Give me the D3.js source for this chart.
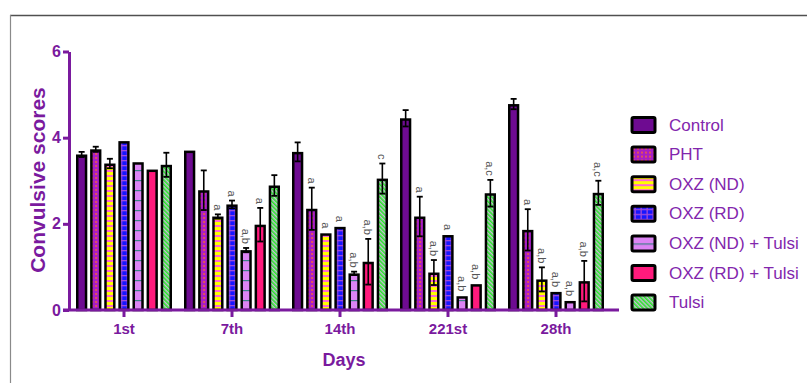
<!DOCTYPE html>
<html>
<head>
<meta charset="utf-8">
<script src="https://cdn.jsdelivr.net/npm/d3@7"></script>
<style>
  body { margin: 0; background: #fff; }
  svg { display: block; }
  svg text { font-family: "Liberation Sans", Arial, sans-serif; }
</style>
</head>
<body>
<div id="chart"></div>
<script>
const days = ["1st", "7th", "14th", "221st", "28th"];
const groups = ["Control", "PHT", "OXZ (ND)", "OXZ (RD)", "OXZ (ND) + Tulsi", "OXZ (RD) + Tulsi", "Tulsi"];

// mean scores per group, one value per day
const control = [3.61, 3.70, 3.67, 4.45, 4.78];
const pht     = [3.73, 2.78, 2.35, 2.17, 1.86];
const oxzND   = [3.40, 2.17, 1.78, 0.87, 0.71];
const oxzRD   = [3.92, 2.45, 1.93, 1.74, 0.42];
const oxzNDT  = [3.43, 1.39, 0.85, 0.32, 0.21];
const oxzRDT  = [3.26, 1.98, 1.12, 0.60, 0.67];
const tulsi   = [3.37, 2.89, 3.05, 2.71, 2.72];

// SEM
const controlErr = [0.06, 0.02, 0.22, 0.19, 0.12];
const phtErr     = [0.06, 0.46, 0.49, 0.46, 0.48];
const oxzNDErr   = [0.11, 0.05, 0.02, 0.29, 0.28];
const oxzRDErr   = [0.02, 0.09, 0.02, 0.02, 0.02];
const oxzNDTErr  = [0.00, 0.05, 0.04, 0.02, 0.02];
const oxzRDTErr  = [0.02, 0.39, 0.53, 0.02, 0.47];
const tulsiErr   = [0.28, 0.24, 0.35, 0.31, 0.28];

// significance letters
const controlSig = ["", "", "", "", ""];
const phtSig     = ["", "", "a", "a", "a"];
const oxzNDSig   = ["", "a", "a", "a,b", "a,b"];
const oxzRDSig   = ["", "a", "a", "a", "a,b"];
const oxzNDTSig  = ["", "a,b", "a,b", "a,b", "a,b"];
const oxzRDTSig  = ["", "a", "a,b", "a,b", "a,b"];
const tulsiSig   = ["", "", "c", "a,c", "a,c"];

const yTicks = [0, 2, 4, 6];

const means = [control, pht, oxzND, oxzRD, oxzNDT, oxzRDT, tulsi];
const errs = [controlErr, phtErr, oxzNDErr, oxzRDErr, oxzNDTErr, oxzRDTErr, tulsiErr];
const sigs = [controlSig, phtSig, oxzNDSig, oxzRDSig, oxzNDTSig, oxzRDTSig, tulsiSig];

const rows = [];
days.forEach((day, di) => {
	groups.forEach((g, gi) => {
		rows.push({day: day, group: g, gi: gi, value: means[gi][di], err: errs[gi][di], sig: sigs[gi][di]});
	});
});

const W = 807, H = 383;
const purple = "#7a1a9e";
const font = "'Liberation Sans', Arial, sans-serif";
const axisLeftX = 69, baseY = 310;

const svg = d3.select("#chart").append("svg")
	.attr("width", W)
	.attr("height", H);

// patterns
const defs = svg.append("defs");

const pPht = defs.append("pattern").attr("id", "p1")
	.attr("patternUnits", "userSpaceOnUse").attr("width", 4).attr("height", 4);
pPht.append("rect").attr("width", 4).attr("height", 4).attr("fill", "#a81ec6");
pPht.append("circle").attr("cx", 2).attr("cy", 2).attr("r", 0.9).attr("fill", "#ff6a28");

const pND = defs.append("pattern").attr("id", "p2")
	.attr("patternUnits", "userSpaceOnUse").attr("width", 6).attr("height", 5);
pND.append("rect").attr("width", 6).attr("height", 5).attr("fill", "#ffff00");
pND.append("rect").attr("width", 6).attr("height", 2).attr("fill", "#ff6ad0");

const pRD = defs.append("pattern").attr("id", "p3")
	.attr("patternUnits", "userSpaceOnUse").attr("width", 6).attr("height", 5);
pRD.append("rect").attr("width", 6).attr("height", 5).attr("fill", "#1616ff");
pRD.append("rect").attr("width", 6).attr("height", 1.3).attr("fill", "#a04ad8");
pRD.append("rect").attr("x", 2.5).attr("width", 1.3).attr("height", 5).attr("fill", "#a04ad8");

const pNDT = defs.append("pattern").attr("id", "p4")
	.attr("patternUnits", "userSpaceOnUse").attr("width", 12).attr("height", 10);
pNDT.append("rect").attr("width", 12).attr("height", 10).attr("fill", "#dc84f4");
pNDT.append("rect").attr("width", 12).attr("height", 1.2).attr("fill", "#3d7f88");

const pT = defs.append("pattern").attr("id", "p6")
	.attr("patternUnits", "userSpaceOnUse").attr("width", 3).attr("height", 3)
	.attr("patternTransform", "rotate(-45)");
pT.append("rect").attr("width", 3).attr("height", 3).attr("fill", "#cbbcd8");
pT.append("rect").attr("width", 1.6).attr("height", 3).attr("fill", "#27e827");

const fills = ["#6e0b91", "url(#p1)", "url(#p2)", "url(#p3)", "url(#p4)", "#ff1a7c", "url(#p6)"];

// frame
svg.append("line").attr("x1", 10).attr("x2", W).attr("y1", 15.5).attr("y2", 15.5)
	.attr("stroke", "#505050").attr("stroke-width", 1.3);
svg.append("line").attr("x1", 10.5).attr("x2", 10.5).attr("y1", 15).attr("y2", H)
	.attr("stroke", "#8a8a8a").attr("stroke-width", 1.2);

const x0 = d3.scaleBand()
	.domain(days)
	.range([axisLeftX + 1, axisLeftX + 541]);

const x1 = d3.scaleBand()
	.domain(groups)
	.range([6, 102])
	.paddingInner(0.2);

const y = d3.scaleLinear()
	.domain([0, 6])
	.range([baseY, 51.5]);

// bars
const plot = svg.append("g").attr("class", "plot");
const bw = x1.bandwidth();

const nodes = plot.selectAll(".node")
	.data(rows)
	.enter()
	.append("g")
	.attr("class", "node")
	.attr("transform", d => `translate(${x0(d.day) + x1(d.group)},0)`);

nodes.append("rect")
	.attr("x", 1.25)
	.attr("y", d => y(d.value) + 1.25)
	.attr("width", bw - 2.5)
	.attr("height", d => Math.max(0, baseY - y(d.value) - 1.25))
	.attr("fill", d => fills[d.gi])
	.attr("stroke", "#000")
	.attr("stroke-width", 2.5);

const eb = nodes.filter(d => d.err > 0.03);
eb.append("line")
	.attr("x1", bw / 2).attr("x2", bw / 2)
	.attr("y1", d => y(d.value - d.err))
	.attr("y2", d => y(d.value + d.err))
	.attr("stroke", "#000").attr("stroke-width", 1.6);
eb.append("line")
	.attr("x1", bw / 2 - 3).attr("x2", bw / 2 + 3)
	.attr("y1", d => y(d.value + d.err))
	.attr("y2", d => y(d.value + d.err))
	.attr("stroke", "#000").attr("stroke-width", 1.8);
eb.append("line")
	.attr("x1", bw / 2 - 3).attr("x2", bw / 2 + 3)
	.attr("y1", d => y(d.value - d.err))
	.attr("y2", d => y(d.value - d.err))
	.attr("stroke", "#000").attr("stroke-width", 1.8);

nodes.filter(d => d.sig)
	.append("text")
	.attr("transform", d => `translate(${bw / 2},${y(d.value + d.err) - 4}) rotate(90)`)
	.attr("text-anchor", "end")
	.attr("dominant-baseline", "central")
	.style("font-family", font)
	.style("font-size", "11px")
	.style("fill", "#555")
	.text(d => d.sig);

// axes
const yAxis = svg.append("g")
	.attr("transform", `translate(${axisLeftX},0)`)
	.call(d3.axisLeft(y).tickValues(yTicks).tickFormat(d3.format("d"))
		.tickSize(6).tickSizeOuter(0).tickPadding(2));
yAxis.attr("font-family", font);
yAxis.select(".domain").attr("stroke", purple).attr("stroke-width", 3);
yAxis.selectAll(".tick line").attr("stroke", purple).attr("stroke-width", 3);
yAxis.selectAll(".tick text")
	.attr("fill", purple)
	.style("font-size", "16px")
	.style("font-weight", "bold");

const xAxis = svg.append("g")
	.attr("transform", `translate(0,${baseY})`)
	.call(d3.axisBottom(x0).tickSize(7).tickSizeOuter(0).tickPadding(6));
xAxis.attr("font-family", font);
xAxis.select(".domain").remove();
xAxis.append("line")
	.attr("x1", axisLeftX - 6).attr("x2", 619)
	.attr("stroke", purple).attr("stroke-width", 3);
xAxis.selectAll(".tick line").attr("stroke", purple).attr("stroke-width", 3);
xAxis.selectAll(".tick text")
	.attr("fill", purple)
	.style("font-size", "15px")
	.style("font-weight", "bold");

svg.append("text")
	.attr("transform", `translate(37,180) rotate(-90)`)
	.attr("text-anchor", "middle")
	.attr("dominant-baseline", "central")
	.style("font-size", "21px")
	.style("font-weight", "bold")
	.style("fill", purple)
	.text("Convulsive scores");

svg.append("text")
	.attr("x", 344)
	.attr("y", 366)
	.attr("text-anchor", "middle")
	.style("font-size", "18px")
	.style("font-weight", "bold")
	.style("fill", purple)
	.text("Days");

// legend
const legend = svg.append("g").attr("transform", "translate(632,125)");
const li = legend.selectAll(".item")
	.data(groups)
	.enter()
	.append("g")
	.attr("class", "item")
	.attr("transform", (d, i) => `translate(0,${i * 29.6})`);
li.append("rect")
	.attr("x", 0).attr("y", -7.5)
	.attr("width", 23).attr("height", 15)
	.attr("rx", 1.5)
	.attr("fill", (d, i) => fills[i])
	.attr("stroke", "#000")
	.attr("stroke-width", 3);
li.append("text")
	.attr("x", 37)
	.attr("y", 0)
	.attr("dominant-baseline", "central")
	.style("font-size", "17px")
	.style("fill", "#8226ad")
	.text(d => d);
</script>
</body>
</html>
